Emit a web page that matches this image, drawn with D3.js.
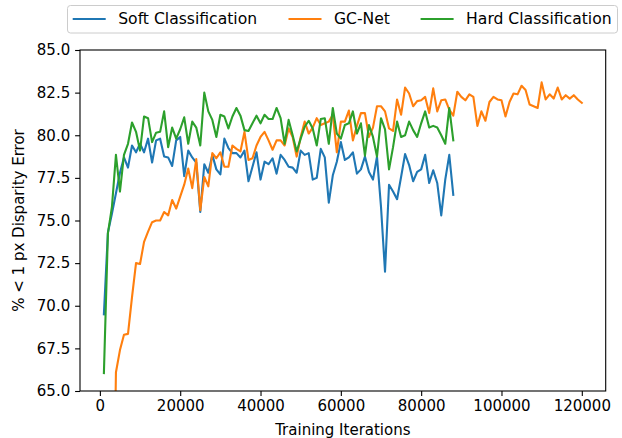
<!DOCTYPE html>
<html>
<head>
<meta charset="utf-8">
<script src="https://cdn.jsdelivr.net/npm/d3@7"></script>
<style>
body { margin: 0; background: #fff; }
svg { font-family: "DejaVu Sans", sans-serif; }
</style>
</head>
<body>
<svg width="622" height="438"></svg>
<script>
// series names and colours (matplotlib tab10)
var seriesNames = ['Soft Classification', 'GC-Net', 'Hard Classification'];
var seriesColors = ['#1f77b4', '#ff7f0e', '#2ca02c'];

// iterations: one point every 1000 steps
var iterStep = 1000;
var softStart = 1000;
var gcnetStart = 3000;
var hardStart = 1000;

var softValues = [
	69.5, 74.3, 75.4, 76.6, 77.8, 78.7, 78.1, 79.4, 79.0, 79.5,
	79.0, 79.8, 78.4, 79.7, 79.8, 78.75, 78.7, 78.2, 79.7, 79.9,
	77.6, 79.1, 78.7, 78.4, 75.5, 78.3, 77.8, 78.85, 78.0, 77.7,
	79.8, 79.25, 78.95, 78.95, 78.7, 79.1, 77.3, 78.15, 79.0, 77.4,
	78.45, 78.3, 78.65, 77.75, 78.85, 78.55, 78.15, 78.1, 77.8, 79.1,
	78.85, 78.95, 77.4, 77.5, 79.2, 78.7, 76.05, 77.65, 78.45, 79.6,
	78.55, 78.7, 79.0, 77.75, 78.0, 78.75, 77.85, 77.4, 78.75, 75.8,
	72.0, 77.1, 76.7, 76.25, 77.55, 78.9, 78.25, 77.3, 77.85, 78.0,
	78.85, 77.2, 77.95, 77.2, 75.3, 77.4, 78.85, 76.5
];

var gcnetValues = [
	50.0, 66.1, 67.4, 68.3, 68.35, 70.5, 72.5, 72.45, 73.75, 74.35,
	74.9, 75.0, 75.0, 75.5, 75.3, 76.2, 75.7, 76.4, 77.1, 78.05,
	76.9, 78.6, 75.6, 77.55, 77.0, 78.95, 78.65, 79.0, 78.15, 78.15,
	79.4, 79.2, 79.05, 80.2, 78.55, 78.65, 79.4, 79.9, 80.2, 79.7,
	79.15, 79.7, 79.7, 79.4, 80.4, 79.9, 78.75, 79.9, 80.8, 80.1,
	80.45, 81.0, 80.6, 80.7, 80.8, 81.2, 79.0, 80.8, 80.8, 81.45,
	79.7, 80.55, 81.3, 81.3, 79.9, 80.45, 81.7, 81.7, 81.4, 80.4,
	80.25, 82.1, 81.2, 82.8, 82.45, 81.7, 82.0, 82.05, 82.25, 81.3,
	82.75, 81.4, 82.05, 82.1, 81.5, 81.15, 82.55, 82.25, 82.05, 82.4,
	82.25, 80.55, 81.4, 80.85, 81.95, 82.25, 82.1, 82.05, 81.1, 81.95,
	82.45, 82.4, 82.9, 82.65, 81.8, 81.7, 81.6, 83.1, 82.1, 82.4,
	82.15, 82.8, 82.1, 82.35, 82.15, 82.35, 82.1, 81.9
];

var hardValues = [
	66.05, 74.25, 75.8, 78.85, 76.7, 78.85, 79.5, 80.75, 80.2, 79.1,
	81.1, 81.0, 79.6, 80.15, 80.2, 81.4, 79.3, 80.45, 79.8, 80.35,
	81.05, 79.5, 80.8, 80.45, 79.4, 82.5, 81.4, 80.9, 79.9, 81.2,
	81.1, 80.4, 81.1, 81.6, 81.15, 80.3, 80.25, 80.7, 81.15, 80.7,
	81.2, 80.95, 80.95, 81.6, 81.0, 79.5, 80.9, 80.0, 79.05, 79.8,
	80.5, 80.85, 80.4, 79.4, 80.95, 81.0, 79.5, 81.6, 80.1, 79.8,
	80.6, 80.7, 81.4, 80.1, 80.7, 78.8, 80.6, 79.9, 78.75, 81.0,
	80.35, 78.0, 79.3, 80.8, 79.9, 80.0, 80.8, 80.3, 79.9, 80.7,
	81.4, 80.45, 80.55, 80.45, 80.0, 79.5, 81.6, 79.7
];

var xTicks = [0, 20000, 40000, 60000, 80000, 100000, 120000];
var yTicks = [65.0, 67.5, 70.0, 72.5, 75.0, 77.5, 80.0, 82.5, 85.0];

function toPoints(start, values) {
	return values.map(function(v, i) { return { it: start + i * iterStep, v: v }; });
}

function main() {
	var svg = d3.select('svg');
	var left = 80, right = 605.7, top = 50, bottom = 391;
	var fontSize = 15;
	var legendFontSize = 15.6;

	var x = d3.scaleLinear().domain([-4950, 125950]).range([left, right]);
	var y = d3.scaleLinear().domain([65, 85]).range([bottom, top]);

	svg.append('clipPath').attr('id', 'plot-clip')
		.append('rect')
		.attr('x', left).attr('y', top)
		.attr('width', right - left).attr('height', bottom - top);

	var series = [
		toPoints(softStart, softValues),
		toPoints(gcnetStart, gcnetValues),
		toPoints(hardStart, hardValues)
	];

	var line = d3.line()
		.x(function(d) { return x(d.it); })
		.y(function(d) { return y(d.v); });

	svg.append('g').attr('clip-path', 'url(#plot-clip)')
		.selectAll('path')
		.data(series)
		.enter().append('path')
		.attr('d', line)
		.attr('fill', 'none')
		.attr('stroke', function(d, i) { return seriesColors[i]; })
		.attr('stroke-width', 2.1)
		.attr('stroke-linejoin', 'round')
		.attr('stroke-linecap', 'square');

	// axes
	var xAxis = svg.append('g')
		.attr('transform', 'translate(0,' + bottom + ')')
		.call(d3.axisBottom(x).tickValues(xTicks).tickFormat(d3.format('d')).tickSize(4.9).tickPadding(4.9));
	var yAxis = svg.append('g')
		.attr('transform', 'translate(' + left + ',0)')
		.call(d3.axisLeft(y).tickValues(yTicks).tickFormat(d3.format('.1f')).tickSize(4.9).tickPadding(4.9));

	[xAxis, yAxis].forEach(function(ax) {
		ax.select('.domain').remove();
		ax.selectAll('line').attr('stroke', '#000').attr('stroke-width', 1.1);
		ax.selectAll('text').attr('fill', '#000')
			.style('font-size', fontSize + 'px')
			.style('font-family', '"DejaVu Sans", sans-serif');
	});

	// frame
	svg.append('rect')
		.attr('x', left).attr('y', top)
		.attr('width', right - left).attr('height', bottom - top)
		.attr('fill', 'none').attr('stroke', '#000').attr('stroke-width', 1.1);

	// axis titles
	svg.append('text')
		.attr('x', (left + right) / 2).attr('y', 435)
		.attr('text-anchor', 'middle')
		.style('font-size', fontSize + 'px')
		.text('Training Iterations');

	svg.append('text')
		.attr('transform', 'translate(24,' + (top + bottom) / 2 + ') rotate(-90)')
		.attr('text-anchor', 'middle')
		.style('font-size', fontSize + 'px')
		.text('% < 1 px Disparity Error');

	// legend
	var legend = svg.append('g');
	legend.append('rect')
		.attr('x', 67.5).attr('y', 5.5)
		.attr('width', 550).attr('height', 27.5)
		.attr('rx', 3)
		.attr('fill', '#fff').attr('stroke', '#cccccc').attr('stroke-width', 1);

	var legendX = [72.7, 288.5, 420.6];
	var entries = legend.selectAll('.entry')
		.data(seriesNames)
		.enter().append('g')
		.attr('class', 'entry')
		.attr('transform', function(d, i) { return 'translate(' + legendX[i] + ',19)'; });

	entries.append('line')
		.attr('x1', 0).attr('x2', 33)
		.attr('stroke', function(d, i) { return seriesColors[i]; })
		.attr('stroke-width', 2.1);

	entries.append('text')
		.attr('x', 45.5).attr('dy', '0.35em')
		.style('font-size', legendFontSize + 'px')
		.text(function(d) { return d; });
}

main();
</script>
</body>
</html>
